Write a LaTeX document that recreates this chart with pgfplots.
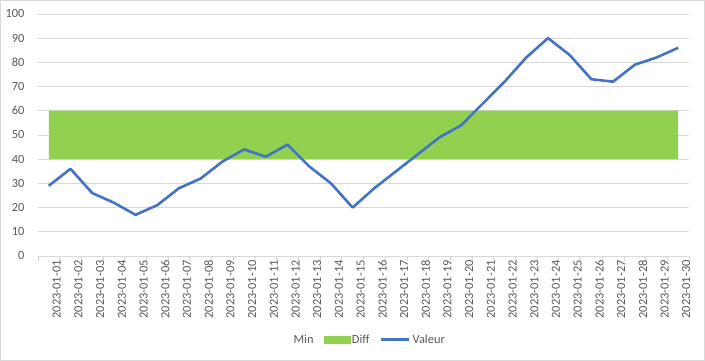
\documentclass[border=0pt]{standalone}
\usepackage{pgfplots}
\pgfplotsset{compat=1.18}
\usepackage{pgfplotstable}
\usepackage{fontspec}
\setmainfont{Carlito}
\definecolor{txt}{HTML}{595959}
\definecolor{grid}{HTML}{D9D9D9}
\definecolor{frame}{HTML}{D9D9D9}
\definecolor{blu}{HTML}{4472C4}
\definecolor{grn}{HTML}{92D050}
\pgfplotstableread{
x min diff val
0 40 20 29
1 40 20 36
2 40 20 26
3 40 20 22
4 40 20 17
5 40 20 21
6 40 20 28
7 40 20 32
8 40 20 39
9 40 20 44
10 40 20 41
11 40 20 46
12 40 20 37
13 40 20 30
14 40 20 20
15 40 20 28
16 40 20 35
17 40 20 42
18 40 20 49
19 40 20 54
20 40 20 63
21 40 20 72
22 40 20 82
23 40 20 90
24 40 20 83
25 40 20 73
26 40 20 72
27 40 20 79
28 40 20 82
29 40 20 86
}\data
\begin{document}
\fontsize{12bp}{14bp}\selectfont
\begin{tikzpicture}
\draw[draw=frame, line width=0.8bp] (0.5bp,0.5bp) rectangle (704.5bp,360.5bp);
\begin{axis}[
  set layers,
  at={(38bp,105bp)}, anchor=south west,
  scale only axis, width=651bp, height=242bp,
  xmin=-0.5, xmax=29.5, ymin=0, ymax=100,
  ytick={0,10,...,100},
  xtick={0,...,29},
  xticklabels={2023-01-01,2023-01-02,2023-01-03,2023-01-04,2023-01-05,2023-01-06,2023-01-07,2023-01-08,2023-01-09,2023-01-10,2023-01-11,2023-01-12,2023-01-13,2023-01-14,2023-01-15,2023-01-16,2023-01-17,2023-01-18,2023-01-19,2023-01-20,2023-01-21,2023-01-22,2023-01-23,2023-01-24,2023-01-25,2023-01-26,2023-01-27,2023-01-28,2023-01-29,2023-01-30},
  minor xtick={-0.5,0.5,...,29.5},
  major x tick style={draw=none},
  major y tick style={draw=none},
  minor x tick style={draw=grid, line width=0.8bp},
  minor tick length=5bp,
  tick align=outside,
  xtick pos=bottom,
  ymajorgrids,
  grid style={draw=grid, line width=0.8bp},
  axis line style={draw=none},
  tick label style={font=\fontsize{12.4bp}{14bp}\selectfont, text=txt},
  /pgf/number format/assume math mode=true,
  xticklabel style={rotate=90, anchor=east, inner sep=0pt, yshift=-8bp},
  yticklabel style={anchor=east, inner sep=0pt, xshift=-9bp},
  stack plots=y,
  legend columns=3,
  legend style={draw=none, fill=none, at={(0.508,-0.347)}, anchor=center,
    font=\fontsize{12.4bp}{14bp}\selectfont, text=txt,
    nodes={inner sep=1bp},
    /tikz/every even column/.append style={column sep=9bp},
    /tikz/every odd column/.append style={column sep=1bp}},
]
\addplot[draw=none, fill=none, forget plot] table[x=x, y=min] {\data} \closedcycle;
\addplot[draw=none, fill=grn, forget plot] table[x=x, y=diff] {\data} \closedcycle;
\addplot[blu, line width=2.6bp, line join=round, stack plots=false, forget plot, on layer=axis foreground] table[x=x, y=val] {\data};
\addlegendimage{legend image code/.code={}}
\addlegendentry{Min}
\addlegendimage{legend image code/.code={\fill[grn] (0bp,-3.5bp) rectangle (26bp,3.5bp);}}
\addlegendentry{Diff}
\addlegendimage{legend image code/.code={\draw[blu, line width=3bp] (0bp,0bp) -- (28bp,0bp);}}
\addlegendentry{Valeur}
\end{axis}
\end{tikzpicture}
\end{document}
